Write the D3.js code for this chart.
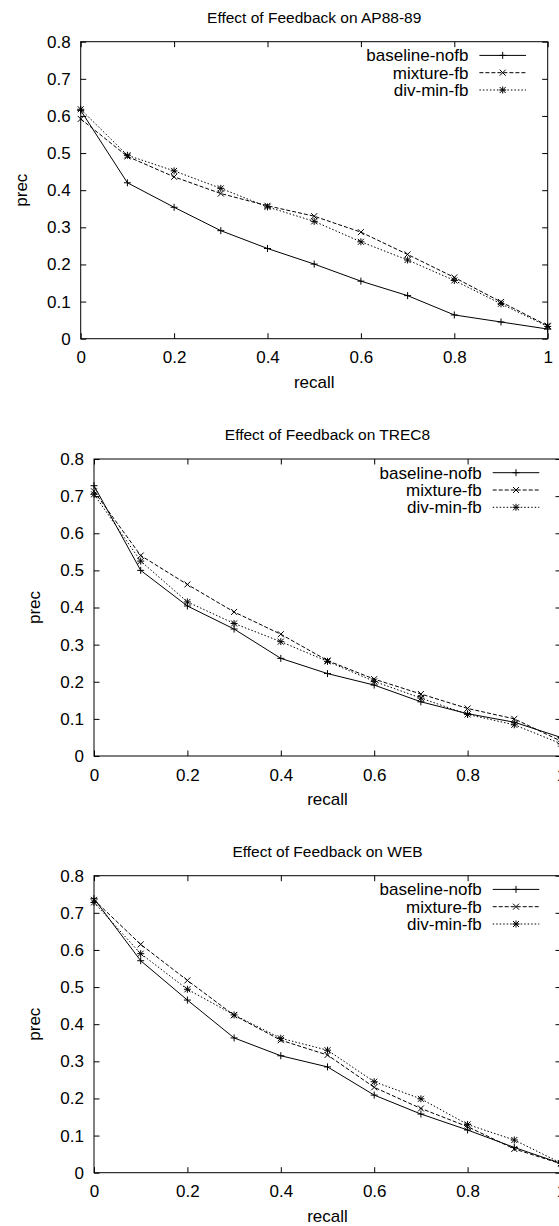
<!DOCTYPE html>
<meta charset="UTF-8">

<head>
    <title>Effect of Feedback</title>
</head>
<style>
    body {
        margin: 0;
        background: #fff;
    }

    svg {
        display: block;
        font-family: "Liberation Sans", Arial, Helvetica, sans-serif;
    }

    .tick text {
        font-size: 17px;
        fill: #000;
    }

    .title {
        font-size: 15.5px;
    }

    .axisLabel,
    .legendText {
        font-size: 17px;
    }
</style>

<body>
    <div id="chart"></div>

    <script src="https://cdn.jsdelivr.net/npm/d3@7/dist/d3.min.js"></script>
    <script type="text/javascript">

        // recall levels on the x axis
        var recall = [0, 0.1, 0.2, 0.3, 0.4, 0.5, 0.6, 0.7, 0.8, 0.9, 1];
        var seriesNames = ["baseline-nofb", "mixture-fb", "div-min-fb"];
        var titles = ["Effect of Feedback on AP88-89", "Effect of Feedback on TREC8", "Effect of Feedback on WEB"];
        var xTicks = [0, 0.2, 0.4, 0.6, 0.8, 1];
        var yTicks = [0, 0.1, 0.2, 0.3, 0.4, 0.5, 0.6, 0.7, 0.8];

        // AP88-89
        var apBaseline = [0.615, 0.42, 0.354, 0.291, 0.243, 0.201, 0.155, 0.116, 0.064, 0.045, 0.026];
        var apMixture = [0.592, 0.491, 0.436, 0.391, 0.358, 0.330, 0.287, 0.227, 0.165, 0.099, 0.035];
        var apDivMin = [0.618, 0.494, 0.452, 0.405, 0.355, 0.316, 0.261, 0.212, 0.157, 0.094, 0.033];

        // TREC8
        var trecBaseline = [0.728, 0.500, 0.404, 0.342, 0.263, 0.222, 0.191, 0.146, 0.114, 0.091, 0.050];
        var trecMixture = [0.713, 0.540, 0.462, 0.388, 0.328, 0.257, 0.207, 0.167, 0.128, 0.100, 0.040];
        var trecDivMin = [0.705, 0.525, 0.415, 0.357, 0.308, 0.255, 0.201, 0.156, 0.112, 0.084, 0.033];

        // WEB
        var webBaseline = [0.738, 0.571, 0.465, 0.363, 0.315, 0.285, 0.209, 0.158, 0.115, 0.068, 0.025];
        var webMixture = [0.735, 0.615, 0.518, 0.424, 0.357, 0.317, 0.230, 0.173, 0.124, 0.064, 0.024];
        var webDivMin = [0.728, 0.590, 0.494, 0.425, 0.362, 0.330, 0.245, 0.199, 0.130, 0.088, 0.026];

        var panelData = [
            [apBaseline, apMixture, apDivMin],
            [trecBaseline, trecMixture, trecDivMin],
            [webBaseline, webMixture, webDivMin]
        ];

        // where each plot box sits (gnuplot pages stacked, lower two cut at the right)
        var boxes = [
            { left: 80.7, top: 41.7 },
            { left: 94, top: 459 },
            { left: 94, top: 875.7 }
        ];
        var plotW = 467;
        var plotH = 297;
        var tickLen = 5.5;

        var dashes = [null, "4,2", "1.5,2"];
        var symbols = ["plus", "cross", "star"];

        function symbolPath(type) {
            var p = "M-3.5,0H3.5M0,-3.5V3.5";
            var c = "M-3,-3L3,3M-3,3L3,-3";
            if (type == "plus") return p;
            if (type == "cross") return c;
            return p + c;
        }

        var w = 559;
        var h = 1226;
        var svg = d3.select("#chart")
            .append("svg")
            .attr("width", w)
            .attr("height", h);

        boxes.forEach(function (box, pi) {
            var x = d3.scaleLinear().domain([0, 1]).range([0, plotW]);
            var y = d3.scaleLinear().domain([0, 0.8]).range([plotH, 0]);

            var g = svg.append("g")
                .attr("transform", "translate(" + box.left + "," + box.top + ")");

            // title
            g.append("text")
                .attr("class", "title")
                .attr("x", plotW / 2)
                .attr("y", -24.5)
                .attr("dy", "0.35em")
                .attr("text-anchor", "middle")
                .text(titles[pi]);

            // ticks with labels
            g.append("g")
                .call(d3.axisLeft(y).tickValues(yTicks).tickFormat(d3.format("~g"))
                    .tickSizeInner(-tickLen).tickSizeOuter(0).tickPadding(10))
                .call(s => s.select(".domain").remove());
            g.append("g")
                .attr("transform", "translate(0," + plotH + ")")
                .call(d3.axisBottom(x).tickValues(xTicks).tickFormat(d3.format("~g"))
                    .tickSizeInner(-tickLen).tickSizeOuter(0).tickPadding(12.5))
                .call(s => s.select(".domain").remove());
            // mirrored ticks
            g.append("g")
                .attr("transform", "translate(" + plotW + ",0)")
                .call(d3.axisRight(y).tickValues(yTicks).tickFormat("")
                    .tickSizeInner(-tickLen).tickSizeOuter(0))
                .call(s => s.select(".domain").remove());
            g.append("g")
                .call(d3.axisTop(x).tickValues(xTicks).tickFormat("")
                    .tickSizeInner(-tickLen).tickSizeOuter(0))
                .call(s => s.select(".domain").remove());
            g.selectAll(".tick line").attr("stroke", "#000");

            // frame
            g.append("rect")
                .attr("width", plotW)
                .attr("height", plotH)
                .attr("fill", "none")
                .attr("stroke", "#000")
                .attr("stroke-width", 1);

            // axis titles
            g.append("text")
                .attr("class", "axisLabel")
                .attr("x", plotW / 2)
                .attr("y", plotH + 43)
                .attr("dy", "0.35em")
                .attr("text-anchor", "middle")
                .text("recall");
            g.append("text")
                .attr("class", "axisLabel")
                .attr("transform", "translate(-60," + (plotH / 2) + ") rotate(-90)")
                .attr("dy", "0.35em")
                .attr("text-anchor", "middle")
                .text("prec");

            var line = d3.line()
                .x(function (d, i) { return x(recall[i]); })
                .y(function (d) { return y(d); });

            panelData[pi].forEach(function (vals, si) {
                g.append("path")
                    .datum(vals)
                    .attr("d", line)
                    .attr("fill", "none")
                    .attr("stroke", "#000")
                    .attr("stroke-width", 1)
                    .attr("stroke-dasharray", dashes[si]);

                g.selectAll(".pt" + si)
                    .data(vals)
                    .enter()
                    .append("path")
                    .attr("class", "pt" + si)
                    .attr("transform", function (d, i) {
                        return "translate(" + x(recall[i]) + "," + y(d) + ")";
                    })
                    .attr("d", symbolPath(symbols[si]))
                    .attr("fill", "none")
                    .attr("stroke", "#000")
                    .attr("stroke-width", 1);

                // legend entry
                var ly = 13.7 + si * 17.3;
                g.append("text")
                    .attr("class", "legendText")
                    .attr("x", plotW - 79.3)
                    .attr("y", ly)
                    .attr("dy", "0.35em")
                    .attr("text-anchor", "end")
                    .text(seriesNames[si]);
                g.append("line")
                    .attr("x1", plotW - 68.3)
                    .attr("x2", plotW - 21.7)
                    .attr("y1", ly)
                    .attr("y2", ly)
                    .attr("stroke", "#000")
                    .attr("stroke-width", 1)
                    .attr("stroke-dasharray", dashes[si]);
                g.append("path")
                    .attr("transform", "translate(" + (plotW - 45) + "," + ly + ")")
                    .attr("d", symbolPath(symbols[si]))
                    .attr("fill", "none")
                    .attr("stroke", "#000")
                    .attr("stroke-width", 1);
            });
        });

    </script>
</body>

</html>
